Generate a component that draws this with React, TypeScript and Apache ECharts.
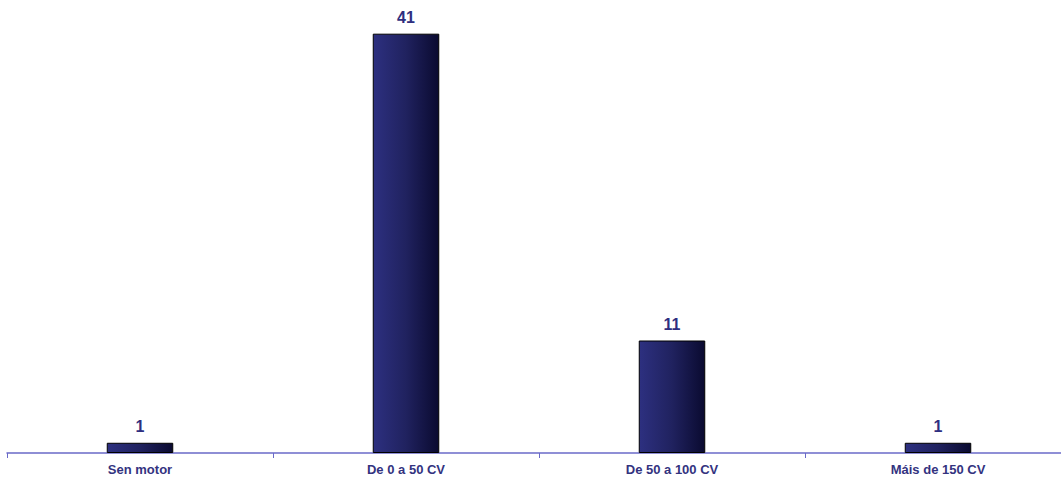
import React, { useEffect, useRef } from "react";
import * as echarts from "echarts";

const categories = ["Sen motor", "De 0 a 50 CV", "De 50 a 100 CV", "Máis de 150 CV"];
const values = [1, 41, 11, 1];

export default function App() {
  const ref = useRef<HTMLDivElement>(null);
  useEffect(() => {
    const chart = echarts.init(ref.current!, null, { renderer: "svg" });
    chart.setOption({
      animation: false,
      grid: { left: 7, right: 9, top: 3, bottom: 25, containLabel: false },
      xAxis: {
        type: "category",
        data: categories,
        axisLine: { show: true, lineStyle: { color: "#6a6ac8", width: 1.5 } },
        axisTick: { show: true, length: 5, lineStyle: { color: "#6a6ac8" } },
        axisLabel: {
          color: "#33337f",
          fontFamily: "Liberation Sans, Arial, sans-serif",
          fontWeight: "bold",
          fontSize: 13,
          margin: 10,
        },
      },
      yAxis: {
        type: "value",
        min: 0,
        max: 44,
        show: false,
        splitLine: { show: false },
      },
      series: [
        {
          type: "bar",
          data: values,
          barWidth: "25%",
          itemStyle: {
            color: new echarts.graphic.LinearGradient(0, 0, 1, 0, [
              { offset: 0, color: "#2d3080" },
              { offset: 0.5, color: "#20225f" },
              { offset: 1, color: "#0a0a30" },
            ]),
            borderColor: "#000000",
            borderWidth: 1,
          },
          label: {
            show: true,
            position: "top",
            distance: 8,
            color: "#2e2e80",
            fontFamily: "Liberation Sans, Arial, sans-serif",
            fontWeight: "bold",
            fontSize: 16,
          },
        },
      ],
    });
    return () => chart.dispose();
  }, []);
  return (
    <div style={{ position: "absolute", left: 0, top: 0, width: 1061, height: 478, overflow: "hidden" }}>
      <div ref={ref} style={{ width: 1080, height: 478 }} />
    </div>
  );
}
